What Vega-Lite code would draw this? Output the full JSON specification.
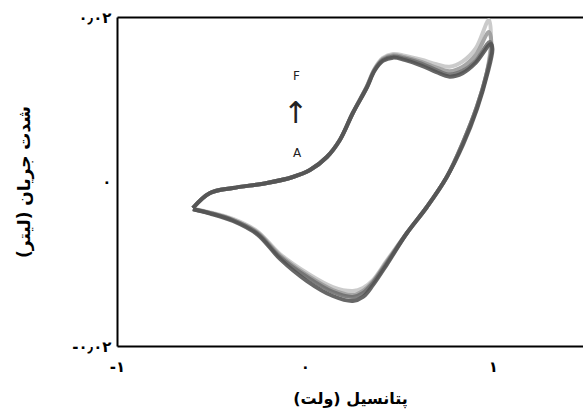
{
  "$schema": "https://vega.github.io/schema/vega-lite/v6.json",
  "width": 466,
  "height": 329,
  "autosize": {"type": "none"},
  "padding": {"left": 117, "top": 17, "right": 0, "bottom": 68},
  "background": "white",
  "config": {"view": {"stroke": null}, "font": "DejaVu Sans"},
  "datasets": {
    "curves": [
      {"cycle": "1", "i": 1, "x": -0.596, "y": -0.00322},
      {"cycle": "1", "i": 2, "x": -0.505, "y": -0.0014},
      {"cycle": "1", "i": 3, "x": -0.383, "y": -0.00079},
      {"cycle": "1", "i": 4, "x": -0.202, "y": -0.00018},
      {"cycle": "1", "i": 5, "x": -0.064, "y": 0.00055},
      {"cycle": "1", "i": 6, "x": 0.027, "y": 0.0014},
      {"cycle": "1", "i": 7, "x": 0.117, "y": 0.00298},
      {"cycle": "1", "i": 8, "x": 0.186, "y": 0.00505},
      {"cycle": "1", "i": 9, "x": 0.255, "y": 0.00833},
      {"cycle": "1", "i": 10, "x": 0.33, "y": 0.01161},
      {"cycle": "1", "i": 11, "x": 0.37, "y": 0.01368},
      {"cycle": "1", "i": 12, "x": 0.415, "y": 0.01502},
      {"cycle": "1", "i": 13, "x": 0.47, "y": 0.0155},
      {"cycle": "1", "i": 14, "x": 0.53, "y": 0.0153},
      {"cycle": "1", "i": 15, "x": 0.62, "y": 0.0148},
      {"cycle": "1", "i": 16, "x": 0.7, "y": 0.01425},
      {"cycle": "1", "i": 17, "x": 0.77, "y": 0.01395},
      {"cycle": "1", "i": 18, "x": 0.84, "y": 0.0146},
      {"cycle": "1", "i": 19, "x": 0.91, "y": 0.0162},
      {"cycle": "1", "i": 20, "x": 0.979, "y": 0.01964},
      {"cycle": "1", "i": 21, "x": 0.99, "y": 0.01745},
      {"cycle": "1", "i": 22, "x": 0.968, "y": 0.01319},
      {"cycle": "1", "i": 23, "x": 0.915, "y": 0.00906},
      {"cycle": "1", "i": 24, "x": 0.84, "y": 0.00468},
      {"cycle": "1", "i": 25, "x": 0.755, "y": 0.00055},
      {"cycle": "1", "i": 26, "x": 0.649, "y": -0.0031},
      {"cycle": "1", "i": 27, "x": 0.543, "y": -0.00626},
      {"cycle": "1", "i": 28, "x": 0.436, "y": -0.0096},
      {"cycle": "1", "i": 29, "x": 0.362, "y": -0.01198},
      {"cycle": "1", "i": 30, "x": 0.309, "y": -0.01295},
      {"cycle": "1", "i": 31, "x": 0.255, "y": -0.01331},
      {"cycle": "1", "i": 32, "x": 0.149, "y": -0.01283},
      {"cycle": "1", "i": 33, "x": 0.011, "y": -0.01112},
      {"cycle": "1", "i": 34, "x": -0.133, "y": -0.00881},
      {"cycle": "1", "i": 35, "x": -0.255, "y": -0.00602},
      {"cycle": "1", "i": 36, "x": -0.383, "y": -0.00455},
      {"cycle": "1", "i": 37, "x": -0.505, "y": -0.00375},
      {"cycle": "1", "i": 38, "x": -0.596, "y": -0.0033},

      {"cycle": "2", "i": 1, "x": -0.596, "y": -0.00322},
      {"cycle": "2", "i": 2, "x": -0.505, "y": -0.0014},
      {"cycle": "2", "i": 3, "x": -0.383, "y": -0.00079},
      {"cycle": "2", "i": 4, "x": -0.202, "y": -0.00018},
      {"cycle": "2", "i": 5, "x": -0.064, "y": 0.00055},
      {"cycle": "2", "i": 6, "x": 0.027, "y": 0.0014},
      {"cycle": "2", "i": 7, "x": 0.117, "y": 0.00298},
      {"cycle": "2", "i": 8, "x": 0.186, "y": 0.00505},
      {"cycle": "2", "i": 9, "x": 0.255, "y": 0.00833},
      {"cycle": "2", "i": 10, "x": 0.33, "y": 0.01155},
      {"cycle": "2", "i": 11, "x": 0.37, "y": 0.0136},
      {"cycle": "2", "i": 12, "x": 0.415, "y": 0.0149},
      {"cycle": "2", "i": 13, "x": 0.47, "y": 0.01535},
      {"cycle": "2", "i": 14, "x": 0.53, "y": 0.01512},
      {"cycle": "2", "i": 15, "x": 0.62, "y": 0.01455},
      {"cycle": "2", "i": 16, "x": 0.7, "y": 0.01385},
      {"cycle": "2", "i": 17, "x": 0.77, "y": 0.0134},
      {"cycle": "2", "i": 18, "x": 0.84, "y": 0.01395},
      {"cycle": "2", "i": 19, "x": 0.91, "y": 0.0154},
      {"cycle": "2", "i": 20, "x": 0.979, "y": 0.01818},
      {"cycle": "2", "i": 21, "x": 0.992, "y": 0.01696},
      {"cycle": "2", "i": 22, "x": 0.968, "y": 0.01319},
      {"cycle": "2", "i": 23, "x": 0.915, "y": 0.00906},
      {"cycle": "2", "i": 24, "x": 0.84, "y": 0.00468},
      {"cycle": "2", "i": 25, "x": 0.755, "y": 0.00055},
      {"cycle": "2", "i": 26, "x": 0.649, "y": -0.0031},
      {"cycle": "2", "i": 27, "x": 0.543, "y": -0.00626},
      {"cycle": "2", "i": 28, "x": 0.436, "y": -0.00975},
      {"cycle": "2", "i": 29, "x": 0.362, "y": -0.01216},
      {"cycle": "2", "i": 30, "x": 0.309, "y": -0.0133},
      {"cycle": "2", "i": 31, "x": 0.255, "y": -0.0138},
      {"cycle": "2", "i": 32, "x": 0.149, "y": -0.0132},
      {"cycle": "2", "i": 33, "x": 0.011, "y": -0.0114},
      {"cycle": "2", "i": 34, "x": -0.133, "y": -0.009},
      {"cycle": "2", "i": 35, "x": -0.255, "y": -0.00615},
      {"cycle": "2", "i": 36, "x": -0.383, "y": -0.00468},
      {"cycle": "2", "i": 37, "x": -0.505, "y": -0.00383},
      {"cycle": "2", "i": 38, "x": -0.596, "y": -0.00334},

      {"cycle": "3", "i": 1, "x": -0.596, "y": -0.00322},
      {"cycle": "3", "i": 2, "x": -0.505, "y": -0.0014},
      {"cycle": "3", "i": 3, "x": -0.383, "y": -0.00079},
      {"cycle": "3", "i": 4, "x": -0.202, "y": -0.00018},
      {"cycle": "3", "i": 5, "x": -0.064, "y": 0.00055},
      {"cycle": "3", "i": 6, "x": 0.027, "y": 0.0014},
      {"cycle": "3", "i": 7, "x": 0.117, "y": 0.00298},
      {"cycle": "3", "i": 8, "x": 0.186, "y": 0.00505},
      {"cycle": "3", "i": 9, "x": 0.255, "y": 0.00833},
      {"cycle": "3", "i": 10, "x": 0.33, "y": 0.01149},
      {"cycle": "3", "i": 11, "x": 0.37, "y": 0.01352},
      {"cycle": "3", "i": 12, "x": 0.415, "y": 0.01478},
      {"cycle": "3", "i": 13, "x": 0.47, "y": 0.0152},
      {"cycle": "3", "i": 14, "x": 0.53, "y": 0.01495},
      {"cycle": "3", "i": 15, "x": 0.62, "y": 0.01432},
      {"cycle": "3", "i": 16, "x": 0.7, "y": 0.01355},
      {"cycle": "3", "i": 17, "x": 0.77, "y": 0.013},
      {"cycle": "3", "i": 18, "x": 0.84, "y": 0.01345},
      {"cycle": "3", "i": 19, "x": 0.91, "y": 0.0147},
      {"cycle": "3", "i": 20, "x": 0.984, "y": 0.01696},
      {"cycle": "3", "i": 21, "x": 0.995, "y": 0.01635},
      {"cycle": "3", "i": 22, "x": 0.968, "y": 0.01319},
      {"cycle": "3", "i": 23, "x": 0.915, "y": 0.00906},
      {"cycle": "3", "i": 24, "x": 0.84, "y": 0.00468},
      {"cycle": "3", "i": 25, "x": 0.755, "y": 0.00055},
      {"cycle": "3", "i": 26, "x": 0.649, "y": -0.0031},
      {"cycle": "3", "i": 27, "x": 0.543, "y": -0.00626},
      {"cycle": "3", "i": 28, "x": 0.436, "y": -0.00991},
      {"cycle": "3", "i": 29, "x": 0.362, "y": -0.01234},
      {"cycle": "3", "i": 30, "x": 0.309, "y": -0.01356},
      {"cycle": "3", "i": 31, "x": 0.255, "y": -0.01404},
      {"cycle": "3", "i": 32, "x": 0.149, "y": -0.01343},
      {"cycle": "3", "i": 33, "x": 0.011, "y": -0.01161},
      {"cycle": "3", "i": 34, "x": -0.133, "y": -0.00918},
      {"cycle": "3", "i": 35, "x": -0.255, "y": -0.00626},
      {"cycle": "3", "i": 36, "x": -0.383, "y": -0.00468},
      {"cycle": "3", "i": 37, "x": -0.505, "y": -0.00383},
      {"cycle": "3", "i": 38, "x": -0.596, "y": -0.00334},

      {"cycle": "4", "i": 1, "x": -0.596, "y": -0.00322},
      {"cycle": "4", "i": 2, "x": -0.505, "y": -0.0014},
      {"cycle": "4", "i": 3, "x": -0.383, "y": -0.00079},
      {"cycle": "4", "i": 4, "x": -0.202, "y": -0.00018},
      {"cycle": "4", "i": 5, "x": -0.064, "y": 0.00055},
      {"cycle": "4", "i": 6, "x": 0.027, "y": 0.0014},
      {"cycle": "4", "i": 7, "x": 0.117, "y": 0.00298},
      {"cycle": "4", "i": 8, "x": 0.186, "y": 0.00505},
      {"cycle": "4", "i": 9, "x": 0.255, "y": 0.00833},
      {"cycle": "4", "i": 10, "x": 0.33, "y": 0.01143},
      {"cycle": "4", "i": 11, "x": 0.37, "y": 0.01344},
      {"cycle": "4", "i": 12, "x": 0.415, "y": 0.01466},
      {"cycle": "4", "i": 13, "x": 0.47, "y": 0.01506},
      {"cycle": "4", "i": 14, "x": 0.53, "y": 0.01478},
      {"cycle": "4", "i": 15, "x": 0.62, "y": 0.0141},
      {"cycle": "4", "i": 16, "x": 0.7, "y": 0.0133},
      {"cycle": "4", "i": 17, "x": 0.77, "y": 0.01275},
      {"cycle": "4", "i": 18, "x": 0.84, "y": 0.01318},
      {"cycle": "4", "i": 19, "x": 0.91, "y": 0.01445},
      {"cycle": "4", "i": 20, "x": 0.989, "y": 0.01672},
      {"cycle": "4", "i": 21, "x": 0.998, "y": 0.01611},
      {"cycle": "4", "i": 22, "x": 0.97, "y": 0.013},
      {"cycle": "4", "i": 23, "x": 0.917, "y": 0.0089},
      {"cycle": "4", "i": 24, "x": 0.842, "y": 0.0045},
      {"cycle": "4", "i": 25, "x": 0.755, "y": 0.00055},
      {"cycle": "4", "i": 26, "x": 0.649, "y": -0.0031},
      {"cycle": "4", "i": 27, "x": 0.543, "y": -0.00626},
      {"cycle": "4", "i": 28, "x": 0.436, "y": -0.0101},
      {"cycle": "4", "i": 29, "x": 0.362, "y": -0.0126},
      {"cycle": "4", "i": 30, "x": 0.309, "y": -0.01404},
      {"cycle": "4", "i": 31, "x": 0.255, "y": -0.01453},
      {"cycle": "4", "i": 32, "x": 0.149, "y": -0.01392},
      {"cycle": "4", "i": 33, "x": 0.011, "y": -0.0121},
      {"cycle": "4", "i": 34, "x": -0.133, "y": -0.0094},
      {"cycle": "4", "i": 35, "x": -0.255, "y": -0.0064},
      {"cycle": "4", "i": 36, "x": -0.383, "y": -0.0048},
      {"cycle": "4", "i": 37, "x": -0.505, "y": -0.0039},
      {"cycle": "4", "i": 38, "x": -0.596, "y": -0.00338}
    ],
    "labels": [
      {"x": -0.045, "y": 0.0128, "label": "F", "size": "small"},
      {"x": -0.05, "y": 0.0082, "label": "↑", "size": "big"},
      {"x": -0.042, "y": 0.0035, "label": "A", "size": "small"}
    ]
  },
  "encoding": {
    "x": {
      "field": "x", "type": "quantitative",
      "scale": {"domain": [-1, 1.48], "nice": false, "zero": false},
      "axis": {
        "orient": "bottom",
        "values": [-1, 0, 1],
        "labelExpr": "datum.value == -1 ? '-۱' : datum.value == 0 ? '۰' : '۱'",
        "ticks": false, "grid": false,
        "domain": true, "domainColor": "#000000", "domainWidth": 2,
        "labelFont": "DejaVu Sans", "labelFontSize": 15, "labelFontWeight": "bold", "labelColor": "#000000",
        "labelPadding": 13, "labelFlush": false,
        "title": "پتانسیل (ولت)",
        "titleFont": "DejaVu Sans", "titleFontSize": 16, "titleFontWeight": "bold", "titleColor": "#000000",
        "titlePadding": 16
      }
    },
    "y": {
      "field": "y", "type": "quantitative",
      "scale": {"domain": [-0.02, 0.02], "nice": false, "zero": false},
      "axis": {
        "orient": "left",
        "values": [-0.02, 0, 0.02],
        "labelExpr": "datum.value < -0.01 ? '-۰٫۰۲' : datum.value > 0.01 ? '۰٫۰۲' : '۰'",
        "ticks": false,
        "grid": true,
        "gridColor": "#000000",
        "gridWidth": 2,
        "gridOpacity": {"condition": {"test": "datum.value > 0.01", "value": 1}, "value": 0},
        "domain": true, "domainColor": "#000000", "domainWidth": 2,
        "labelFont": "DejaVu Sans", "labelFontSize": 15, "labelFontWeight": "bold", "labelColor": "#000000",
        "labelPadding": 6, "labelFlush": false,
        "title": "شدت جریان (لیتر)",
        "titleFont": "DejaVu Sans", "titleFontSize": 17, "titleFontWeight": "bold", "titleColor": "#000000",
        "titlePadding": 38
      }
    }
  },
  "layer": [
    {
      "data": {"name": "curves"},
      "mark": {"type": "line", "interpolate": "catmull-rom", "strokeWidth": 4, "opacity": 0.88},
      "encoding": {
        "color": {
          "field": "cycle", "type": "nominal",
          "scale": {"domain": ["1", "2", "3", "4"], "range": ["#c4c4c4", "#9a9a9a", "#6e6e6e", "#525252"]},
          "legend": null
        },
        "order": {"field": "i", "type": "quantitative"}
      }
    },
    {
      "data": {"name": "labels"},
      "mark": {"type": "text", "font": "DejaVu Sans", "color": "#222222"},
      "encoding": {
        "text": {"field": "label"},
        "size": {
          "field": "size", "type": "nominal",
          "scale": {"domain": ["small", "big"], "range": [12, 30]},
          "legend": null
        }
      }
    }
  ]
}
